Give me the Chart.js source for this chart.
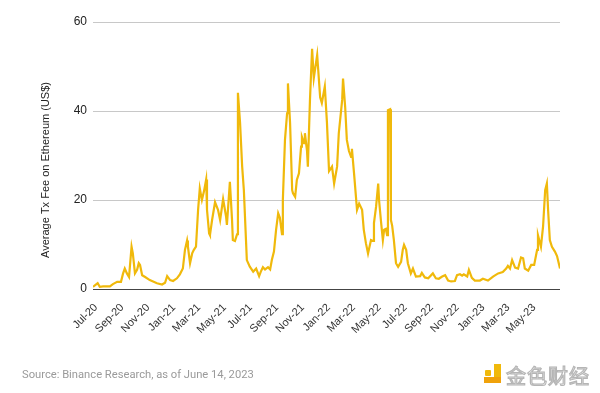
<!DOCTYPE html>
<html>
<head>
<meta charset="utf-8">
<script src="https://cdn.jsdelivr.net/npm/chart.js@4.4.0/dist/chart.umd.min.js"></script>
<style>
  html, body { margin: 0; padding: 0; background: #fff; }
  #wrap { position: relative; width: 600px; height: 393px; overflow: hidden; }
  #source { position: absolute; left: 22px; top: 368px; font-family: Roboto, "Noto Sans", sans-serif; font-size: 11.2px; color: #9a9a9a; }
  #logo { position: absolute; left: 484px; top: 362px; width: 110px; height: 26px; }
  #logo .sq { position: absolute; left: 1px; top: 8px; width: 6px; height: 6px; background: #f0b90b; border-radius: 1px; }
  #logo .bar { position: absolute; left: 10px; top: 2px; width: 7px; height: 19px; background: #f0b90b; }
  #logo .base { position: absolute; left: 0px; top: 15px; width: 17px; height: 6px; background: #f0a20b; }
  #logo .txt { position: absolute; left: 22px; top: -1px; font-family: "Noto Sans CJK SC", sans-serif; font-size: 20px; color: #fff; -webkit-text-stroke: 1.2px #b5b5b5; letter-spacing: 1px; }
</style>
</head>
<body>
<div id="wrap">
  <canvas id="fee-chart" width="600" height="393"></canvas>
  <div id="source">Source: Binance Research, as of June 14, 2023</div>
  <div id="logo"><div class="sq"></div><div class="bar"></div><div class="base"></div><div class="txt">金色财经</div></div>
</div>
<script>
// days since 1 Jul 2020
const days = [-7,4,9,17,33,40,50,59,64,68,
  73,78,84,87,92,97,101,104,109,116,
  127,144,156,163,168,175,182,191,198,205,
  210,215,217,222,227,231,236,241,245,250,
  255,260,262,267,269,274,281,288,293,300,
  307,309,312,316,321,323,328,333,335,340,
  345,349,354,356,363,371,378,385,389,394,
  399,406,411,415,420,425,430,434,439,441,
  446,451,453,458,463,465,470,474,479,484,
  486,491,493,498,500,505,510,514,522,529,
  533,540,545,550,557,562,569,573,581,583,
  588,592,597,602,604,609,616,621,628,632,
  637,642,649,654,656,661,666,668,673,677,
  680,684,687,689,694,696,699,703,708,713,
  720,724,727,732,736,743,748,755,765,769,
  776,784,795,802,809,817,824,831,838,847,
  852,859,864,868,876,880,887,894,906,913,
  925,937,949,960,968,972,977,982,989,996,
  1003,1008,1012,1020,1027,1034,1041,1043,1050,1055,
  1060,1064,1067,1071,1076,1083,1088,1095];

// average tx fee (US$)
const fees = [0.5,1.3,0.5,0.6,0.6,1.1,1.6,1.6,3.5,4.6,
  3.5,2.7,9.5,8,3.5,4.3,5.8,5.4,3.1,2.7,
  2.0,1.3,1.0,1.4,2.9,2.0,1.8,2.4,3.3,4.6,
  8.8,10.9,9.5,5.8,8,8.8,9.5,17.8,22.6,20,
  22,24.6,17.8,12.5,12.1,15.5,19.5,17.8,15.5,20.2,
  16.3,14.4,18.5,24.1,15.7,11,10.8,12.3,44.1,37.4,
  27.5,22.2,11,6.5,5,3.9,4.6,2.9,3.9,4.9,
  4.4,4.9,4.4,6.5,8.4,13.3,17,16,12.3,20,
  33.5,39.5,46.2,37.4,22.2,21.5,20.7,24.5,26,32,
  34.2,32.8,35,31.1,27.5,42.5,54,47.4,52.6,43.1,
  41.8,45.5,37.5,26.5,27.5,23.7,27.5,35,42.5,47.3,
  41,33.5,31,29.7,31.5,26,17.8,19.2,17.8,13.3,
  10.3,8,11,10.8,14.8,18.5,23.7,20,14.8,11,
  13.3,13.5,12.1,40.2,40.4,15.5,14.2,11,5.8,5,
  6.1,8.8,9.9,8.8,5.8,3.5,4.6,2.8,2.9,3.6,
  2.6,2.4,3.5,2.4,2.3,2.8,3.1,1.9,1.7,1.8,
  3.1,3.3,3.0,3.3,2.8,4.3,2.5,1.9,1.9,2.3,
  1.9,2.8,3.5,3.8,4.6,5.2,4.6,6.5,4.8,4.6,
  7.1,6.9,4.6,4.1,5.4,5.4,8.8,12.1,9.5,14,
  22.2,23.7,17.6,11,9.5,8.4,7.4,4.6];

const tickLabels = ['Jul-20','Sep-20','Nov-20','Jan-21','Mar-21','May-21','Jul-21','Sep-21','Nov-21',
  'Jan-22','Mar-22','May-22','Jul-22','Sep-22','Nov-22','Jan-23','Mar-23','May-23'];

const yTicks = [0, 20, 40, 60];
const yTitle = 'Average Tx Fee on Ethereum (US$)';

const monthIdx = {Jan:0,Feb:1,Mar:2,Apr:3,May:4,Jun:5,Jul:6,Aug:7,Sep:8,Oct:9,Nov:10,Dec:11};
const start = Date.UTC(2020, 6, 1);
const tickDays = tickLabels.map(function (l) {
  const p = l.split('-');
  return Math.round((Date.UTC(2000 + parseInt(p[1]), monthIdx[p[0]], 1) - start) / 86400000);
});

const points = days.map(function (d, i) { return { x: d, y: fees[i] }; });

//title on the left, drawn by hand so it can sit where the original has it
const yTitlePlugin = {
  id: 'yTitle',
  afterDraw: function (chart) {
    const c = chart.ctx;
    c.save();
    c.translate(46, 170);
    c.rotate(-Math.PI / 2);
    c.font = '11px "Liberation Sans", Arial, sans-serif';
    c.fillStyle = '#222';
    c.textAlign = 'center';
    c.textBaseline = 'middle';
    c.fillText(yTitle, 0, 0);
    c.restore();
  }
};

new Chart(document.getElementById('fee-chart'), {
  type: 'line',
  data: {
    datasets: [{
      label: yTitle,
      data: points,
      borderColor: '#f0b90b',
      borderWidth: 2.2,
      pointRadius: 0,
      tension: 0,
      fill: false
    }]
  },
  options: {
    responsive: false,
    animation: false,
    devicePixelRatio: 1,
    layout: { padding: { top: 22, right: 40, left: 0, bottom: 0 } },
    plugins: { legend: { display: false }, tooltip: { enabled: false } },
    scales: {
      x: {
        type: 'linear',
        min: -7,
        max: 1095,
        grid: { display: false },
        border: { display: false },
        afterBuildTicks: function (scale) {
          scale.ticks = tickDays.map(function (v) { return { value: v }; });
        },
        afterFit: function (scale) { scale.height = 104; },
        ticks: {
          autoSkip: false,
          minRotation: 45,
          maxRotation: 45,
          padding: 4,
          color: '#333',
          font: { family: '"Liberation Sans", Arial, sans-serif', size: 11 },
          callback: function (v) {
            const i = tickDays.indexOf(v);
            return i >= 0 ? tickLabels[i] : '';
          }
        }
      },
      y: {
        min: 0,
        max: 60,
        afterBuildTicks: function (scale) {
          scale.ticks = yTicks.map(function (v) { return { value: v }; });
        },
        afterFit: function (scale) { scale.width = 93; },
        border: { display: false },
        grid: {
          drawTicks: false,
          color: function (ctx) { return ctx.tick && ctx.tick.value === 0 ? '#444' : '#c8c8c8'; },
          lineWidth: 1
        },
        ticks: {
          padding: 6,
          color: '#222',
          font: { family: '"Liberation Sans", Arial, sans-serif', size: 12 }
        }
      }
    }
  },
  plugins: [yTitlePlugin]
});
</script>
</body>
</html>
